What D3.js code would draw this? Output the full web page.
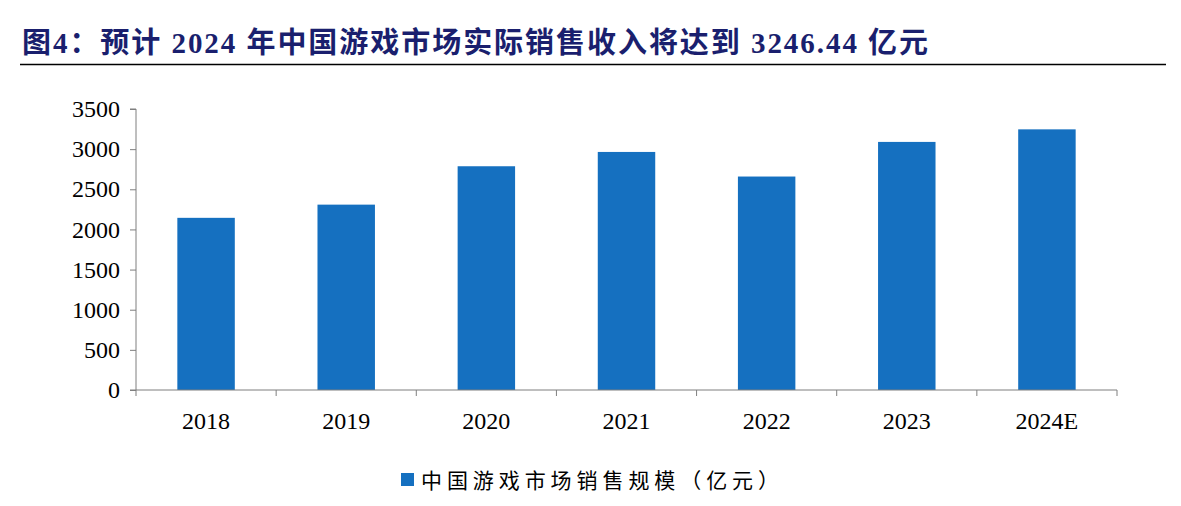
<!DOCTYPE html>
<html><head><meta charset="utf-8">
<script src="https://cdn.jsdelivr.net/npm/d3@7"></script>
<style>body{margin:0;background:#fff}</style></head>
<body><svg id="c" width="1181" height="506"></svg>
<script>
const categories=["2018","2019","2020","2021","2022","2023","2024E"];
const values=[2144.4,2308.8,2786.9,2965.1,2658.8,3090,3246.44];
const yTicks=[0,500,1000,1500,2000,2500,3000,3500];
const svg=d3.select("#c");
const L=136,R=1117,T=109,B=390;
svg.append("text").attr("x",22).attr("y",53).attr("font-family","'Liberation Serif','Noto Sans CJK SC'").attr("font-weight","bold").attr("font-size",29).attr("fill","#1a1f6e").attr("textLength",906).attr("lengthAdjust","spacing").text("图4：预计 2024 年中国游戏市场实际销售收入将达到 3246.44 亿元");
svg.append("line").attr("x1",20).attr("x2",1166).attr("y1",64.5).attr("y2",64.5).attr("stroke","#000").attr("stroke-width",1.5);
const x=d3.scaleBand().domain(categories).range([L,R]).paddingInner(0.59).paddingOuter(0.295);
const y=d3.scaleLinear().domain([0,3500]).range([B,T]);
svg.selectAll("rect.b").data(values).join("rect").attr("x",(d,i)=>x(categories[i])).attr("width",x.bandwidth()).attr("y",d=>y(d)).attr("height",d=>B-y(d)).attr("fill","#1570c0");
const ya=svg.append("g").attr("transform",`translate(${L},0)`).call(d3.axisLeft(y).tickValues(yTicks).tickFormat(d3.format("d")).tickSize(6).tickPadding(10));
ya.selectAll("text").attr("font-family","'Liberation Serif'").attr("font-size",24).attr("fill","#000");
ya.selectAll("line,path").attr("stroke","#7f7f7f");
ya.select("path").attr("d",`M-6,${T}H0V${B}H-6`);
const xa=svg.append("g").attr("transform",`translate(0,${B})`).call(d3.axisBottom(x).tickSize(0).tickPadding(22));
xa.selectAll("text").attr("font-family","'Liberation Serif'").attr("font-size",24).attr("fill","#000");
xa.select("path").attr("stroke","#7f7f7f").attr("d",`M${L},0H${R}`);
const step=x.step();
svg.append("g").selectAll("line").data(d3.range(categories.length+1)).join("line").attr("x1",i=>L+i*step).attr("x2",i=>L+i*step).attr("y1",B).attr("y2",B+6).attr("stroke","#7f7f7f");
svg.append("rect").attr("x",401).attr("y",473).attr("width",13).attr("height",13).attr("fill","#1570c0");
svg.append("text").attr("x",421).attr("y",488).attr("font-family","'Noto Sans CJK SC'").attr("font-size",21).attr("fill","#000").attr("textLength",358).attr("lengthAdjust","spacing").text("中国游戏市场销售规模（亿元）");
</script></body></html>
